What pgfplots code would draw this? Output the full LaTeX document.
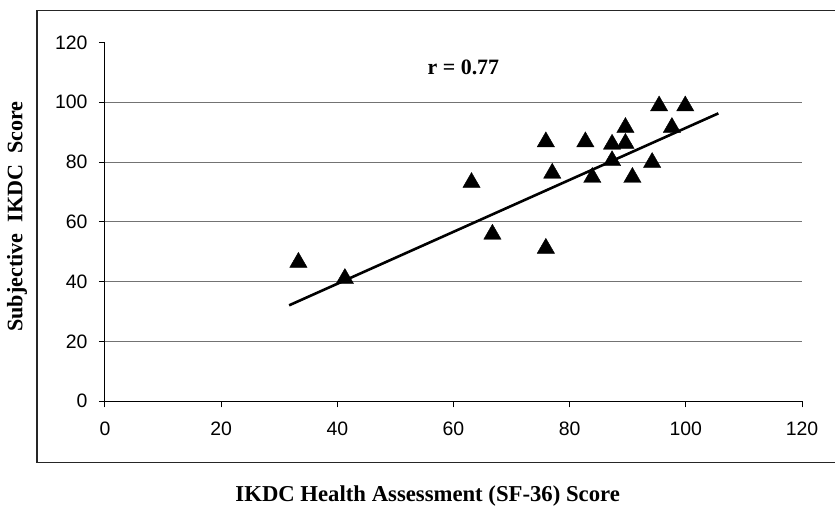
\documentclass[border=0pt]{standalone}
\usepackage{fontspec}
\setmainfont{Liberation Serif}
\newfontfamily\arial{Liberation Sans}
\usepackage{pgfplots}
\pgfplotsset{compat=1.18}
\begin{document}
\begin{tikzpicture}
\path[use as bounding box] (-105bp,-104.7bp) rectangle (730bp,401.3bp);
\draw[black!85, line width=1.2bp] (-68bp,-61.4bp) rectangle (733bp,390.6bp);
\begin{axis}[
  at={(0,0)}, anchor=south west,
  scale only axis, width=697bp, height=358.8bp,
  xmin=0, xmax=120, ymin=0, ymax=120,
  axis lines=left, axis line style={black, line width=1bp, -},
  xtick={0,20,...,120}, ytick={0,20,...,120},
  tick align=outside, major tick length=6bp, tick style={black, line width=1bp},
  /pgf/number format/assume math mode=true,
  tick label style={font=\arial\fontsize{19.5}{20}\selectfont},
  xticklabel style={yshift=-11bp},
  yticklabel style={xshift=-8bp},
  extra y ticks={20,40,60,80,100}, extra y tick labels={},
  extra y tick style={grid=major, major tick length=0pt},
  grid style={black!55, line width=1bp},
  xlabel={IKDC Health Assessment (SF-36) Score},
  ylabel={Subjective\ \ IKDC\ \ Score},
  xlabel style={font=\bfseries\fontsize{22.8}{24}\selectfont, at={(axis description cs:0.463,0)}, anchor=base, yshift=-100bp},
  ylabel style={font=\bfseries\fontsize{22.2}{24}\selectfont, at={([xshift=-82.5bp]axis description cs:0,0.515)}, anchor=base},
  clip=false,
]
\addplot[black, line width=2.6bp, no marks] coordinates {(31.7,32.1) (105.6,96.3)};
\addplot[only marks, mark=triangle*, mark size=10bp,
  mark options={fill=black, draw=black, line width=0.4bp, yshift=-2.5bp}] coordinates {
(33.3,47.3) (41.3,41.9) (63.1,74.0) (66.7,56.7) (75.9,87.6) (75.9,52.0)
(77.0,77.1) (82.7,87.6) (83.9,75.7) (87.3,86.8) (87.3,81.3) (89.6,92.4)
(89.6,87.1) (90.8,75.7) (94.2,80.7) (95.4,99.6) (97.6,92.4) (99.9,99.6)
};
\node[font=\bfseries\fontsize{22}{24}\selectfont, anchor=base] at (axis cs:61.7,109.4) {r = 0.77};
\end{axis}
\end{tikzpicture}
\end{document}
